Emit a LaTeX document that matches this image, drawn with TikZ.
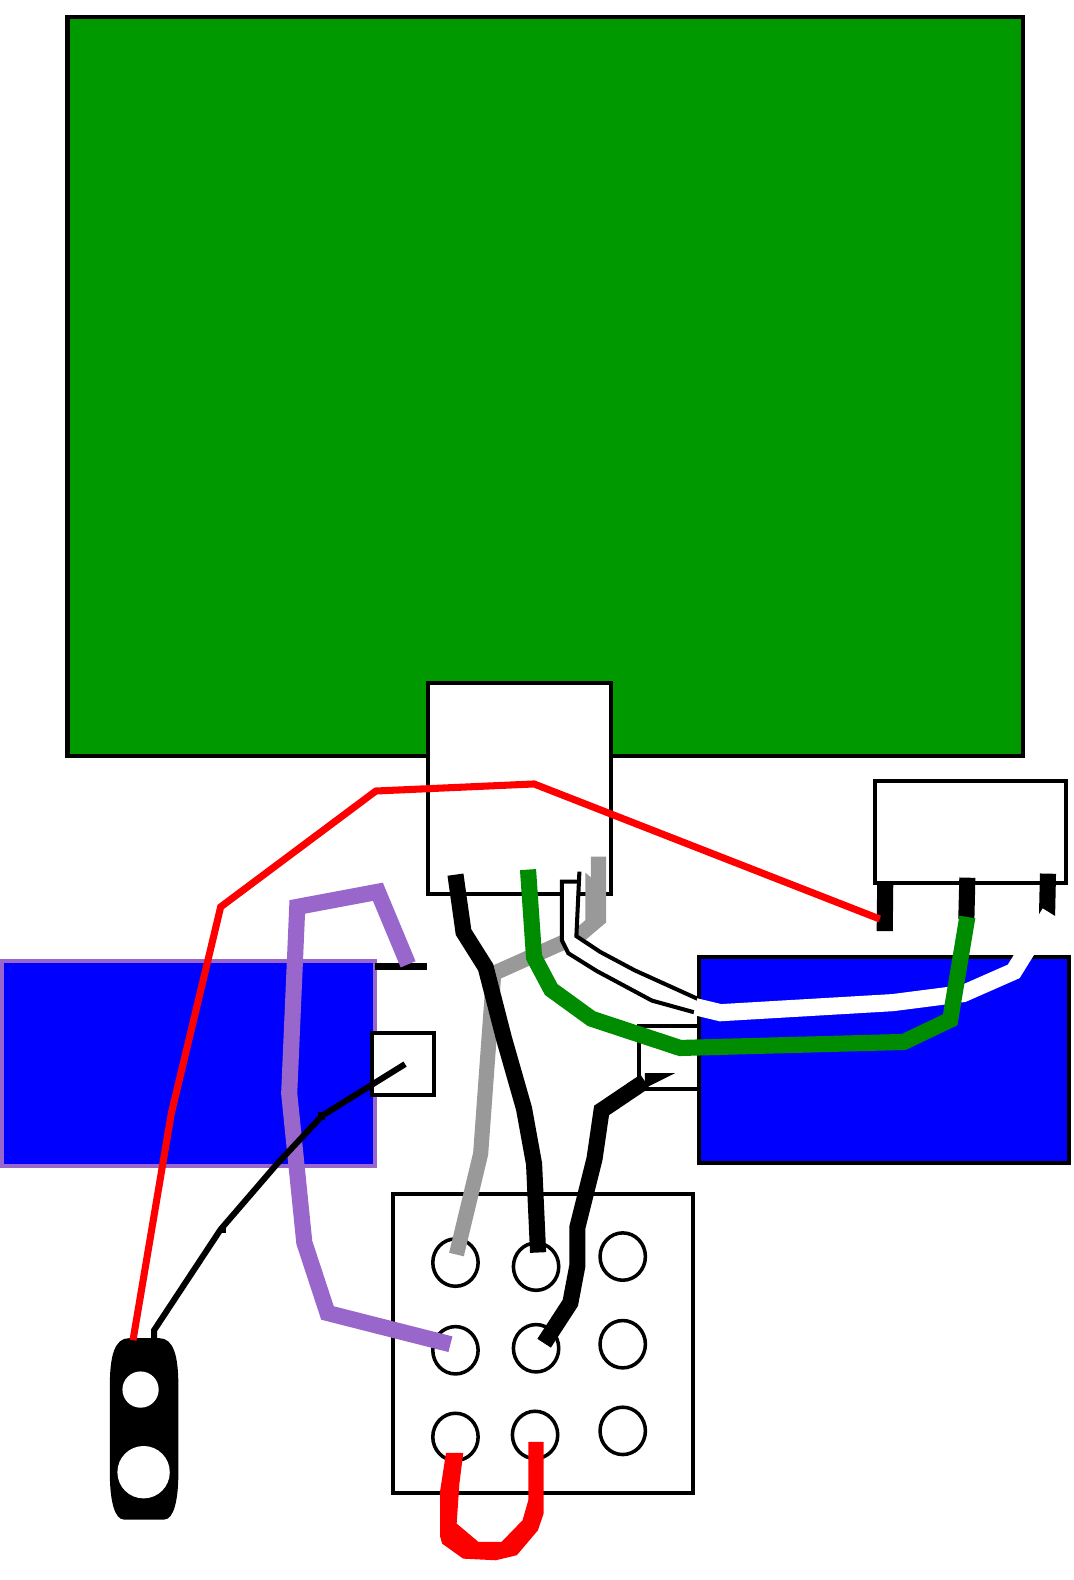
\documentclass[tikz,border=0pt]{standalone}
\definecolor{boardgreen}{RGB}{0,153,0}
\definecolor{wiregreen}{RGB}{0,140,0}
\definecolor{wirepurple}{RGB}{153,102,204}
\definecolor{wiregray}{RGB}{153,153,153}
\tikzset{
  boxline/.style={draw=black,line width=2pt},
  wire/.style={line width=#1*0.5pt,line join=miter,line cap=butt},
  hole/.style={draw=black,line width=1.75pt,fill=white},
}
\begin{document}
\begin{tikzpicture}[x=0.5pt,y=-0.5pt]
\useasboundingbox (0,0) rectangle (1065,1568);
\fill[white] (0,0) rectangle (1065,1568);
% green panel and its connector
\draw[boxline,fill=boardgreen] (67,17) rectangle (1015,750);
\draw[boxline,fill=white] (425,678) rectangle (606,887);
% right connector
\draw[boxline,fill=white] (868,775) rectangle (1058,876);
% small box on the right sits under the blue box
\draw[boxline,fill=white] (634,1018) rectangle (710,1081);
% blue boxes
\draw[draw=wirepurple,line width=2pt,fill=blue] (2,954) rectangle (372,1157);
\draw[boxline,fill=blue] (694,950) rectangle (1061,1154);
% small box on the left sits over the blue box
\draw[boxline,fill=white] (369,1025) rectangle (431,1087);
% switch board
\draw[boxline,fill=white] (390,1185) rectangle (688,1482);
\foreach \n/\x/\y in {a/452/1253,b/532/1257,c/618/1247,d/452/1340,e/532/1338,f/618/1334,g/452/1426,h/531/1424,i/618/1420}
  \draw[hole] (\x,\y) ellipse (22.5 and 23.5);
% battery clip
\fill[black] (128,1328) -- (158,1328) .. controls (172,1328) and (177,1345) .. (177,1375)
  -- (177,1462) .. controls (177,1490) and (172,1508) .. (163,1508)
  -- (123,1508) .. controls (114,1508) and (109,1490) .. (109,1462)
  -- (109,1375) .. controls (109,1345) and (114,1328) .. (128,1328) -- cycle;
\fill[white] (139.5,1379) ellipse (18 and 18);
\fill[white] (142.5,1461) ellipse (26 and 26);
% stubs under the right connector
\draw[wire=16,black] (878.5,876) -- (878,924);
\draw[wire=16,black] (960,871) -- (959,912);
\draw[wire=16,black] (1040,867) -- (1039,912);
% gray wire
\draw[wire=15,wiregray] (453,1245) -- (477,1145) -- (490,966) -- (575,928) -- (594,912) -- (594,850);
\fill[wiregray] (581,866) -- (590,874) -- (590,915) -- (581,920) -- cycle;
% white cased wire
\fill[white] (557.5,875) -- (574,875) -- (572,929) -- (595.5,944.6) -- (630,963) -- (694,992) -- (694,1006) -- (647,993) -- (592,963.5) -- (564,946) -- (557.5,933) -- cycle;
\draw[wire=4,black] (575,865) -- (572,929) -- (595.5,944.6) -- (630,963) -- (694,992);
\draw[wire=4,black] (574,875) -- (557.5,875) -- (557.5,933) -- (564,946) -- (592,963.5) -- (647,993) -- (694,1006);
\draw[wire=17,white] (690,999) -- (715,1005) -- (886,995) -- (956,986) -- (1006,964) -- (1042,906);
% thick black wires
\draw[wire=16,black] (452,868) -- (460,925) -- (482,960) -- (500,1030) -- (520,1100) -- (530,1155) -- (534,1243);
\draw[wire=16,black] (540,1333) -- (566,1293) -- (573,1256) -- (573,1218) -- (590,1150) -- (597,1102) -- (640,1073);
\fill[black] (640,1065) -- (670,1065) -- (640,1080) -- cycle;
% green wire
\draw[wire=16,wiregreen] (524,863) -- (530,950) -- (547,982) -- (587,1011) -- (675,1040) -- (897,1034) -- (943,1012) -- (960,910);
% purple wire and black stub
\draw[wire=7,black] (372,959) -- (424,959);
\draw[wire=16,wirepurple] (447,1334) -- (325,1303) -- (302,1233) -- (287,1085) -- (295,900) -- (375,885) -- (405,957);
% thin wires
\draw[wire=7,red] (132,1330) -- (170,1105) -- (219,900) -- (373,785) -- (530,778) -- (873,912);
\draw[wire=6,black] (153,1330) -- (153,1320) -- (219,1220) -- (275,1155) -- (320,1107) -- (402,1056);
\fill[black] (217,1218) rectangle (224,1224);
\fill[black] (316,1104) rectangle (323,1111);
% red jumper
\fill[red] (442.6,1441.9) -- (459.7,1441.9) -- (455.9,1472.3) -- (453.2,1512) -- (474.8,1530.2) -- (497.7,1530.2) -- (518.6,1508.7) -- (524.3,1488.8) -- (524.3,1431) -- (539.5,1431) -- (539.5,1502) -- (533.8,1518.7) -- (512.9,1543.4) -- (492,1548.4) -- (459.7,1546.8) -- (438.8,1531.9) -- (436.9,1525.3) -- (436.9,1478.9) -- cycle;
\end{tikzpicture}
\end{document}
